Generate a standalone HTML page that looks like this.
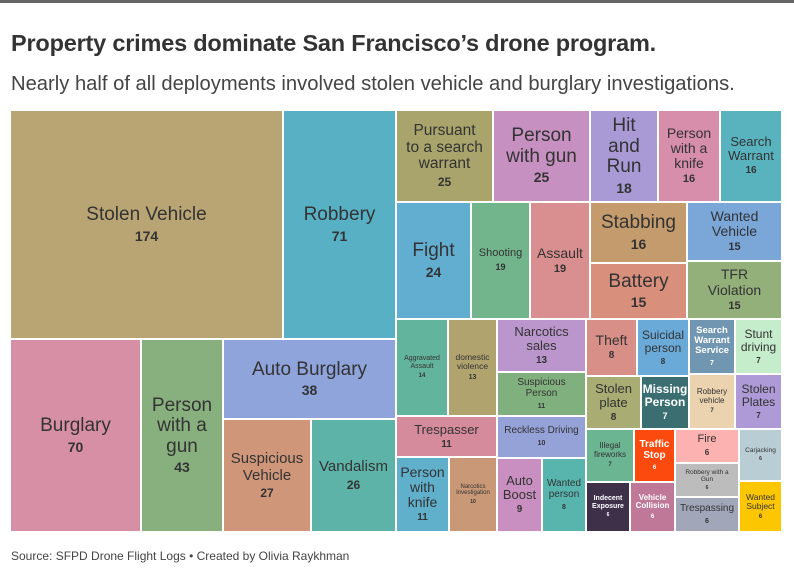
<!DOCTYPE html>
<html><head><meta charset="utf-8"><style>
body{margin:0;width:794px;height:575px;background:#fff;font-family:"Liberation Sans",sans-serif;position:relative;overflow:hidden}
.bar{position:absolute;left:0;top:0;width:794px;height:3px;background:#666}
h1{position:absolute;left:11px;top:30px;margin:0;font-size:23.5px;font-weight:bold;color:#333;letter-spacing:-0.2px;white-space:nowrap}
.sub{position:absolute;left:11px;top:73px;font-size:20.2px;color:#444;white-space:nowrap}
.foot{position:absolute;left:11px;top:549px;font-size:12px;color:#444}
.b{position:absolute;display:flex;flex-direction:column;justify-content:center;align-items:center;text-align:center;line-height:1.08;color:#333;border-right:2px solid #fff;border-bottom:2px solid #fff;box-sizing:border-box;overflow:hidden}
.b b{display:block;margin-top:3px}
.w{color:#fff;font-weight:bold}
</style></head><body>
<div class="bar"></div>
<h1>Property crimes dominate San Francisco’s drone program.</h1>
<div class="sub">Nearly half of all deployments involved stolen vehicle and burglary investigations.</div>

<div class="b" style="left:11px;top:111px;width:273px;height:229px;background:#b9a474;font-size:19px">Stolen Vehicle<b style="font-size:14px">174</b></div>
<div class="b" style="left:284px;top:111px;width:113px;height:229px;background:#58b0c5;font-size:19px">Robbery<b style="font-size:14px">71</b></div>
<div class="b" style="left:11px;top:340px;width:131px;height:193px;background:#d78fa6;font-size:19px">Burglary<b style="font-size:14px">70</b></div>
<div class="b" style="left:142px;top:340px;width:82px;height:193px;background:#88b07f;font-size:19px">Person<br>with a<br>gun<b style="font-size:14px">43</b></div>
<div class="b" style="left:224px;top:340px;width:173px;height:80px;background:#8fa4db;font-size:19px">Auto Burglary<b style="font-size:14px">38</b></div>
<div class="b" style="left:224px;top:420px;width:88px;height:113px;background:#cf9679;font-size:15px">Suspicious<br>Vehicle<b style="font-size:12px">27</b></div>
<div class="b" style="left:312px;top:420px;width:85px;height:113px;background:#5db3a8;font-size:15px">Vandalism<b style="font-size:12px">26</b></div>

<div class="b" style="left:397px;top:111px;width:97px;height:92px;background:#a9a46c;font-size:15.5px">Pursuant<br>to a search<br>warrant<b style="font-size:12px">25</b></div>
<div class="b" style="left:494px;top:111px;width:97px;height:92px;background:#c690c0;font-size:19px">Person<br>with gun<b style="font-size:14px">25</b></div>
<div class="b" style="left:591px;top:111px;width:68px;height:92px;background:#a99ad6;font-size:19px">Hit<br>and<br>Run<b style="font-size:14px">18</b></div>
<div class="b" style="left:659px;top:111px;width:62px;height:92px;background:#d68eaa;font-size:14px">Person<br>with a<br>knife<b style="font-size:11px">16</b></div>
<div class="b" style="left:721px;top:111px;width:62px;height:92px;background:#58b3bf;font-size:13px">Search<br>Warrant<b style="font-size:10px">16</b></div>
<div class="b" style="left:397px;top:203px;width:75px;height:117px;background:#62aed0;font-size:19px">Fight<b style="font-size:14px">24</b></div>
<div class="b" style="left:472px;top:203px;width:59px;height:117px;background:#72b48c;font-size:11px">Shooting<b style="font-size:9px">19</b></div>
<div class="b" style="left:531px;top:203px;width:60px;height:117px;background:#d98f8f;font-size:14px">Assault<b style="font-size:11px">19</b></div>
<div class="b" style="left:591px;top:203px;width:97px;height:61px;background:#c49b6c;font-size:19px">Stabbing<b style="font-size:14px">16</b></div>
<div class="b" style="left:591px;top:264px;width:97px;height:56px;background:#d8907d;font-size:19px">Battery<b style="font-size:14px">15</b></div>
<div class="b" style="left:688px;top:203px;width:95px;height:59px;background:#7aa6d8;font-size:14px">Wanted<br>Vehicle<b style="font-size:11px">15</b></div>
<div class="b" style="left:688px;top:262px;width:95px;height:58px;background:#93b07a;font-size:14px">TFR<br>Violation<b style="font-size:11px">15</b></div>

<div class="b" style="left:397px;top:320px;width:52px;height:97px;background:#62b59c;font-size:7px">Aggravated<br>Assault<b style="font-size:6px">14</b></div>
<div class="b" style="left:449px;top:320px;width:49px;height:97px;background:#b1a36e;font-size:8.5px">domestic<br>violence<b style="font-size:7px">13</b></div>
<div class="b" style="left:498px;top:320px;width:89px;height:53px;background:#bb96cc;font-size:13px">Narcotics<br>sales<b style="font-size:10px">13</b></div>
<div class="b" style="left:498px;top:373px;width:89px;height:44px;background:#80b07d;font-size:10px">Suspicious<br>Person<b style="font-size:7px">11</b></div>
<div class="b" style="left:397px;top:417px;width:101px;height:41px;background:#d58b9c;font-size:13px">Trespasser<b style="font-size:10px">11</b></div>
<div class="b" style="left:498px;top:417px;width:89px;height:42px;background:#94a2d8;font-size:10px">Reckless Driving<b style="font-size:7px">10</b></div>
<div class="b" style="left:397px;top:458px;width:53px;height:75px;background:#60b0cc;font-size:14px">Person<br>with<br>knife<b style="font-size:10px">11</b></div>
<div class="b" style="left:450px;top:458px;width:48px;height:75px;background:#c99876;font-size:6px">Narcotics<br>Investigation<b style="font-size:5px">10</b></div>
<div class="b" style="left:498px;top:459px;width:45px;height:74px;background:#c88fc0;font-size:13px">Auto<br>Boost<b style="font-size:10px">9</b></div>
<div class="b" style="left:543px;top:459px;width:44px;height:74px;background:#58b5ae;font-size:10px">Wanted<br>person<b style="font-size:7px">8</b></div>

<div class="b" style="left:587px;top:320px;width:51px;height:57px;background:#d88f88;font-size:14px">Theft<b style="font-size:10px">8</b></div>
<div class="b" style="left:638px;top:320px;width:52px;height:57px;background:#6aaad8;font-size:12px">Suicidal<br>person<b style="font-size:8px">8</b></div>
<div class="b w" style="left:690px;top:320px;width:46px;height:55px;background:#7196b2;font-size:9.5px">Search<br>Warrant<br>Service<b style="font-size:7px">7</b></div>
<div class="b" style="left:736px;top:320px;width:47px;height:55px;background:#c5eccb;font-size:12px">Stunt<br>driving<b style="font-size:8px">7</b></div>
<div class="b" style="left:587px;top:377px;width:55px;height:53px;background:#a9ad74;font-size:13px">Stolen<br>plate<b style="font-size:10px">8</b></div>
<div class="b w" style="left:642px;top:377px;width:48px;height:53px;background:#3a6e70;font-size:12px">Missing<br>Person<b style="font-size:9px">7</b></div>
<div class="b" style="left:690px;top:375px;width:46px;height:55px;background:#ead3ae;font-size:8px">Robbery<br>vehicle<b style="font-size:6px">7</b></div>
<div class="b" style="left:736px;top:375px;width:47px;height:55px;background:#ad9ad6;font-size:12px">Stolen<br>Plates<b style="font-size:8px">7</b></div>
<div class="b" style="left:587px;top:430px;width:48px;height:53px;background:#6bb592;font-size:8px">Illegal<br>fireworks<b style="font-size:6px">7</b></div>
<div class="b w" style="left:635px;top:430px;width:41px;height:53px;background:#fc4a0e;font-size:10px">Traffic<br>Stop<b style="font-size:6px">6</b></div>
<div class="b w" style="left:587px;top:483px;width:44px;height:50px;background:#3e3048;font-size:7px">Indecent<br>Exposure<b style="font-size:5px">6</b></div>
<div class="b w" style="left:631px;top:483px;width:45px;height:50px;background:#c07898;font-size:8px">Vehicle<br>Collision<b style="font-size:6px">6</b></div>
<div class="b" style="left:676px;top:430px;width:64px;height:34px;background:#fdb2b2;font-size:11px">Fire<b style="font-size:8px">6</b></div>
<div class="b" style="left:676px;top:464px;width:64px;height:34px;background:#bcbcbc;font-size:6.5px">Robbery with a<br>Gun<b style="font-size:5px">6</b></div>
<div class="b" style="left:676px;top:498px;width:64px;height:35px;background:#a1a7b8;font-size:10px">Trespassing<b style="font-size:7px">6</b></div>
<div class="b" style="left:740px;top:430px;width:43px;height:52px;background:#b9cdd4;font-size:6.5px">Carjacking<b style="font-size:5px">6</b></div>
<div class="b" style="left:740px;top:482px;width:43px;height:51px;background:#fcc700;font-size:8.5px">Wanted<br>Subject<b style="font-size:6px">6</b></div>

<div class="foot">Source: SFPD Drone Flight Logs • Created by Olivia Raykhman</div>
</body></html>
